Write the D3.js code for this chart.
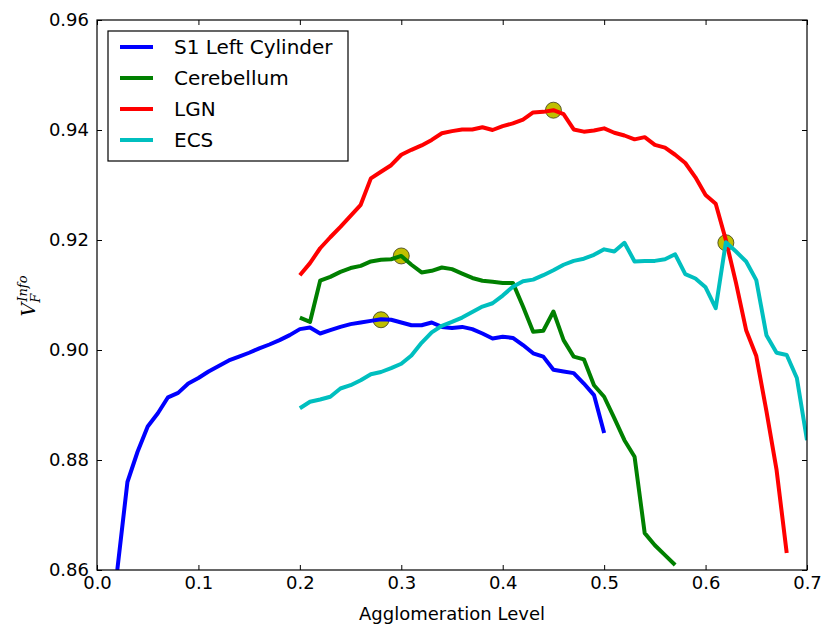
<!DOCTYPE html>
<html>
<head>
<meta charset="utf-8">
<script src="https://cdn.jsdelivr.net/npm/d3@7"></script>
<style>
	body { margin: 0; background: #fff; }
	text { font-family: "DejaVu Sans", sans-serif; }
</style>
</head>
<body>
<div id="chart"></div>
<script>
// series data
let seriesNames = ["S1 Left Cylinder", "Cerebellum", "LGN", "ECS"];
let seriesColors = ["#0000ff", "#008000", "#ff0000", "#00bfbf"];

let s1X = [0.02,0.03,0.04,0.05,0.06,0.07,0.08,0.09,0.10,0.11,0.12,0.13,0.14,0.15,0.16,0.17,0.18,0.19,
	0.20,0.21,0.22,0.23,0.24,0.25,0.26,0.27,0.28,0.29,0.30,0.31,0.32,0.33,0.34,0.35,0.36,0.37,0.38,0.39,
	0.40,0.41,0.42,0.43,0.44,0.45,0.46,0.47,0.48,0.49,0.50];
let s1Y = [0.8600,0.8760,0.8815,0.8861,0.8885,0.8914,0.8922,0.8939,0.8949,0.8961,0.8971,0.8981,0.8988,0.8995,
	0.9003,0.9010,0.9018,0.9027,0.9038,0.9041,0.9030,0.9036,0.9042,0.9047,0.9050,0.9053,0.9056,0.9055,
	0.9050,0.9045,0.9045,0.9050,0.9042,0.9040,0.9042,0.9038,0.9030,0.9021,0.9024,0.9022,0.9009,0.8994,
	0.8988,0.8964,0.8961,0.8958,0.8939,0.8918,0.8849];

let cerebX = [0.20,0.21,0.22,0.23,0.24,0.25,0.26,0.27,0.28,0.29,0.30,0.31,0.32,0.33,0.34,0.35,0.36,0.37,
	0.38,0.39,0.40,0.41,0.42,0.43,0.44,0.45,0.46,0.47,0.48,0.49,0.50,0.51,0.52,0.53,0.54,0.55,0.56,0.57];
let cerebY = [0.9059,0.9051,0.9126,0.9133,0.9142,0.9149,0.9153,0.9161,0.9164,0.9165,0.9171,0.9155,0.9141,
	0.9144,0.9150,0.9147,0.9139,0.9131,0.9126,0.9124,0.9122,0.9122,0.9079,0.9033,0.9035,0.9070,0.9018,
	0.8988,0.8983,0.8936,0.8915,0.8876,0.8836,0.8806,0.8667,0.8645,0.8627,0.8609];

let lgnX = [0.20,0.21,0.22,0.23,0.24,0.25,0.26,0.27,0.28,0.29,0.30,0.31,0.32,0.33,0.34,0.35,0.36,0.37,
	0.38,0.39,0.40,0.41,0.42,0.43,0.44,0.45,0.46,0.47,0.48,0.49,0.50,0.51,0.52,0.53,0.54,0.55,0.56,0.57,
	0.58,0.59,0.60,0.61,0.62,0.63,0.64,0.65,0.66,0.67,0.68];
let lgnY = [0.9136,0.9158,0.9185,0.9205,0.9224,0.9244,0.9264,0.9312,0.9324,0.9336,0.9355,0.9364,0.9372,
	0.9382,0.9394,0.9398,0.9401,0.9401,0.9405,0.9400,0.9407,0.9412,0.9419,0.9432,0.9433,0.9436,0.9429,
	0.9401,0.9397,0.9399,0.9403,0.9395,0.9390,0.9383,0.9387,0.9373,0.9368,0.9355,0.9340,0.9314,0.9282,
	0.9266,0.9200,0.9122,0.9036,0.8989,0.8889,0.8782,0.8631];

let ecsX = [0.20,0.21,0.22,0.23,0.24,0.25,0.26,0.27,0.28,0.29,0.30,0.31,0.32,0.33,0.34,0.35,0.36,0.37,
	0.38,0.39,0.40,0.41,0.42,0.43,0.44,0.45,0.46,0.47,0.48,0.49,0.50,0.51,0.52,0.53,0.54,0.55,0.56,0.57,
	0.58,0.59,0.60,0.61,0.62,0.63,0.64,0.65,0.66,0.67,0.68,0.69,0.70];
let ecsY = [0.8894,0.8906,0.8910,0.8915,0.8930,0.8936,0.8945,0.8956,0.8960,0.8967,0.8975,0.8990,0.9013,
	0.9032,0.9044,0.9051,0.9059,0.9069,0.9079,0.9085,0.9099,0.9115,0.9125,0.9128,0.9136,0.9145,0.9155,
	0.9162,0.9166,0.9173,0.9183,0.9179,0.9195,0.9161,0.9162,0.9162,0.9165,0.9174,0.9138,0.9130,0.9114,
	0.9076,0.9196,0.9179,0.9161,0.9127,0.9027,0.8995,0.8991,0.8949,0.8836];

// best points (circles)
let bestX = [0.28, 0.30, 0.45, 0.62];
let bestY = [0.9055, 0.9171, 0.9436, 0.9195];

let xTicks = [0.0,0.1,0.2,0.3,0.4,0.5,0.6,0.7];
let yTicks = [0.86,0.88,0.90,0.92,0.94,0.96];

function chart() {
	let window_w = 824, window_h = 632;
	let margin = {top: 20, right: 17, bottom: 62, left: 97},
		width = window_w - (margin.left + margin.right),
		height = window_h - (margin.top + margin.bottom);

	let svg = d3.select("#chart")
		.append("svg")
		.attr("width", window_w)
		.attr("height", window_h);

	let plot = svg.append("g")
		.attr("transform", "translate(" + margin.left + "," + margin.top + ")");

	let x = d3.scaleLinear().domain([0, 0.7]).range([0, width]);
	let y = d3.scaleLinear().domain([0.86, 0.96]).range([height, 0]);

	plot.append("clipPath").attr("id", "clip")
		.append("rect").attr("width", width).attr("height", height);

	let xs = [s1X, cerebX, lgnX, ecsX];
	let ys = [s1Y, cerebY, lgnY, ecsY];

	let line = d3.line()
		.x(function(d){ return x(d[0]) })
		.y(function(d){ return y(d[1]) });

	let lines = plot.append("g").attr("clip-path", "url(#clip)");

	// markers sit under the lines
	lines.selectAll("circle")
		.data(bestX.map(function(d,i){ return [d, bestY[i]] }))
		.enter()
		.append("circle")
		.attr("cx", function(d){ return x(d[0]) })
		.attr("cy", function(d){ return y(d[1]) })
		.attr("r", 8)
		.attr("fill", "#bfbf00")
		.attr("stroke", "#3a3a1a")
		.attr("stroke-width", 0.8);

	xs.forEach(function(xv, k){
		let pts = xv.map(function(d,i){ return [d, ys[k][i]] });
		lines.append("path")
			.datum(pts)
			.attr("d", line)
			.attr("fill", "none")
			.attr("stroke", seriesColors[k])
			.attr("stroke-width", 4)
			.attr("stroke-linejoin", "round");
	});

	// axes, ticks inside on all four sides
	let fs = "18px";
	let ax = function(a){ return a.tickSizeInner(-5).tickSizeOuter(0) };

	let gx = plot.append("g").attr("transform", "translate(0," + height + ")")
		.call(ax(d3.axisBottom(x).tickValues(xTicks).tickFormat(d3.format(".1f")).tickPadding(6)));
	let gy = plot.append("g")
		.call(ax(d3.axisLeft(y).tickValues(yTicks).tickFormat(d3.format(".2f")).tickPadding(8)));
	let gt = plot.append("g")
		.call(ax(d3.axisTop(x).tickValues(xTicks).tickFormat("")));
	let gr = plot.append("g").attr("transform", "translate(" + width + ",0)")
		.call(ax(d3.axisRight(y).tickValues(yTicks).tickFormat("")));

	[gx, gy, gt, gr].forEach(function(g){
		g.select(".domain").remove();
		g.selectAll("line").attr("stroke", "#000");
		g.selectAll("text").attr("fill", "#000").style("font-size", fs)
			.style("font-family", "'DejaVu Sans', sans-serif");
	});

	plot.append("rect")
		.attr("width", width).attr("height", height)
		.attr("fill", "none").attr("stroke", "#000").attr("stroke-width", 1.2);

	svg.append("text")
		.attr("x", margin.left + width / 2)
		.attr("y", 620)
		.attr("text-anchor", "middle")
		.style("font-size", fs)
		.text("Agglomeration Level");

	// y label: V_F^{Info}, mathtext-like
	let yl = svg.append("text")
		.attr("transform", "translate(35,296) rotate(-90)")
		.attr("text-anchor", "middle")
		.style("font-family", "'DejaVu Serif', serif")
		.style("font-style", "italic")
		.style("font-size", "19px");
	yl.append("tspan").text("V");
	yl.append("tspan").attr("dy", 5).style("font-size", "13px").text("F");
	yl.append("tspan").attr("dx", -8).attr("dy", -13).style("font-size", "13px").text("Info");

	// legend
	let legend = plot.append("g").attr("transform", "translate(11,11)");
	legend.append("rect")
		.attr("width", 240).attr("height", 130)
		.attr("fill", "#fff").attr("stroke", "#000").attr("stroke-width", 1.2);
	let rows = legend.selectAll("g.row")
		.data(seriesNames)
		.enter()
		.append("g")
		.attr("class", "row")
		.attr("transform", function(d,i){ return "translate(0," + (16 + i * 31) + ")" });
	rows.append("line")
		.attr("x1", 12).attr("x2", 45)
		.attr("stroke", function(d,i){ return seriesColors[i] })
		.attr("stroke-width", 4);
	rows.append("text")
		.attr("x", 66).attr("dy", "0.35em")
		.style("font-size", "20px")
		.text(function(d){ return d });
}

chart();
</script>
</body>
</html>
